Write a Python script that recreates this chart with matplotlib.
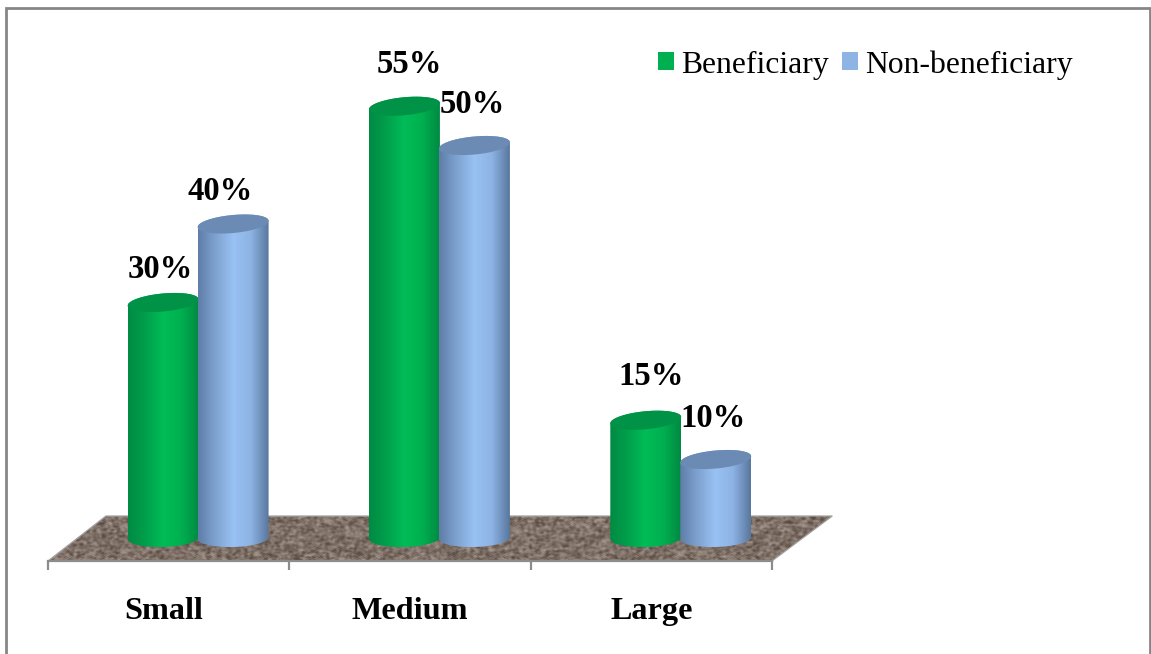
import matplotlib
matplotlib.use("Agg")
import matplotlib.pyplot as plt
import numpy as np
from matplotlib.patches import Patch, PathPatch, Polygon, Rectangle
from matplotlib.path import Path
from matplotlib.transforms import ScaledTranslation

categories = ["Small", "Medium", "Large"]
series_names = ["Beneficiary", "Non-beneficiary"]
beneficiary = [30, 55, 15]
non_beneficiary = [40, 50, 10]

W, H = 1151, 654
DPI = 100
PX = 72.0 / DPI

# plot area in pixels, y counted from the top
LEFT, RIGHT, TOP, BOTTOM = 48, 840, 20, 561
X_PER_UNIT = 241.33
Y_PER_UNIT = 7.85
BASE_PX = 538

# cylinder shape, in data units
RADIUS_X = 0.147
RADIUS_Y = 1.15
TILT = 0.4
BASE_TILT = 0.12
DEPTH_SHIFT = 0.122
BAR_OFFSET = 0.145

GREEN_STOPS = ["#008A43", "#00A04C", "#00BC57", "#00B050", "#008A43"]
BLUE_STOPS = ["#5F7EA9", "#7FA3D1", "#98C2F3", "#8DB3E4", "#5A789F"]
GREEN_TOP = "#009247"
BLUE_TOP = "#6C8BB4"
GREEN_KEY = "#00B050"
BLUE_KEY = "#8DB4E2"

# label nudges in pixels (right, up) from the top of each bar
green_nudge = [(-3, 33), (5, 42), (5, 44)]
blue_nudge = [(-12.5, 33), (-2, 41), (-3, 41)]
category_nudge = [-5, 0, 0]

plt.rcParams["font.family"] = ["Liberation Serif", "DejaVu Serif"]
LEGEND_SIZE = 22.8
VALUE_SIZE = 23.5
CATEGORY_SIZE = 23.2


def hex_rgb(c):
    return np.array(matplotlib.colors.to_rgb(c))


def gradient(stops):
    pos = np.linspace(0, 1, 70)
    rgb = np.array([hex_rgb(c) for c in stops])
    xs = np.linspace(0, 1, len(stops))
    return np.stack([np.interp(pos, xs, rgb[:, i]) for i in range(3)], axis=1)[None, :, :]


def floor_texture(w, h):
    # speckled brown ground, from a sine hash smeared sideways
    yy, xx = np.mgrid[0:h, 0:w]
    v = np.sin(xx * 12.9898 + yy * 78.233) * 43758.5453
    v = v - np.floor(v)
    out = v.copy()
    for shift in [(0, 1), (0, -1), (0, 2), (0, -2), (0, 3), (0, -3), (1, 0), (-1, 0), (1, 1), (-1, -1), (1, -1), (-1, 1)]:
        out = out + np.roll(v, shift, axis=(0, 1))
    out = out / 13.0
    out = (out - out.mean()) / out.std()
    out = np.clip(out, -2.2, 2.2)[:, :, None]
    base = hex_rgb("#7E7066")
    return np.clip(base + out * 0.065, 0, 1)


def ellipse_points(cx, cy, t, tilt):
    return np.column_stack([cx + RADIUS_X * np.cos(t),
                            cy + RADIUS_Y * np.sin(t) + tilt * np.cos(t)])


def draw_cylinder(ax, cx, value, stops, top_colour, z):
    low = ellipse_points(cx, 0, np.linspace(np.pi, 2 * np.pi, 40), BASE_TILT)
    high = ellipse_points(cx, value, np.linspace(0, np.pi, 40), TILT)
    body = np.vstack([low, high, low[:1]])
    clip = PathPatch(Path(body), transform=ax.transData, fc="none", ec="none")
    ax.add_patch(clip)
    im = ax.imshow(gradient(stops), extent=[cx - RADIUS_X, cx + RADIUS_X, -2, value + 2],
                   aspect="auto", interpolation="bilinear", zorder=z)
    im.set_clip_path(clip)
    cap = ellipse_points(cx, value, np.linspace(0, 2 * np.pi, 80), TILT)
    ax.add_patch(Polygon(cap, closed=True, fc=top_colour, ec="none", zorder=z + 0.1))


fig = plt.figure(figsize=(W / DPI, H / DPI), dpi=DPI, facecolor="white")

# outer chart frame, open at the bottom edge of the image
fig.add_artist(Rectangle((6 / W, -0.02), (1150 - 6) / W, 1.02 - 8 / H, transform=fig.transFigure,
                         fc="none", ec="#868686", lw=2.0))

ax = fig.add_axes([LEFT / W, 1 - BOTTOM / H, (RIGHT - LEFT) / W, (BOTTOM - TOP) / H])
ax.patch.set_alpha(0)

xlim = (-0.5, -0.5 + (RIGHT - LEFT) / X_PER_UNIT)
ylim = ((BASE_PX - BOTTOM) / Y_PER_UNIT, (BASE_PX - TOP) / Y_PER_UNIT)

# ground plane
back = (BASE_PX - 516) / Y_PER_UNIT
floor = [(-0.5, ylim[0]), (-0.26, back), (2.75, back), (2.5, ylim[0])]
floor_patch = Polygon(floor, closed=True, transform=ax.transData, fc="none", ec="#A3A3A3", lw=0.9, zorder=1.5)
ax.add_patch(floor_patch)
floor_im = ax.imshow(floor_texture(W, 46), extent=[-0.5, 2.75, ylim[0], back], aspect="auto",
                     interpolation="bilinear", zorder=1)
floor_im.set_clip_path(floor_patch)

z = 3
for i in range(len(categories)):
    gx = i + DEPTH_SHIFT
    draw_cylinder(ax, gx - BAR_OFFSET, beneficiary[i], GREEN_STOPS, GREEN_TOP, z)
    draw_cylinder(ax, gx + BAR_OFFSET, non_beneficiary[i], BLUE_STOPS, BLUE_TOP, z + 1)
    z += 2
    ax.annotate(f"{beneficiary[i]}%", (gx - BAR_OFFSET, beneficiary[i]), textcoords="offset points",
                xytext=(green_nudge[i][0] * PX, green_nudge[i][1] * PX), ha="center", va="center",
                fontsize=VALUE_SIZE, fontweight="bold", zorder=20, annotation_clip=False)
    ax.annotate(f"{non_beneficiary[i]}%", (gx + BAR_OFFSET, non_beneficiary[i]), textcoords="offset points",
                xytext=(blue_nudge[i][0] * PX, blue_nudge[i][1] * PX), ha="center", va="center",
                fontsize=VALUE_SIZE, fontweight="bold", zorder=20, annotation_clip=False)

ax.set_xlim(xlim)
ax.set_ylim(ylim)

# category axis: dividers as major ticks, names on minor ticks
for side in ["top", "left", "right"]:
    ax.spines[side].set_visible(False)
ax.spines["bottom"].set_color("#8C8C8C")
ax.spines["bottom"].set_linewidth(1.6)
ax.spines["bottom"].set_bounds(-0.5, 2.5)
ax.spines["bottom"].set_zorder(2)
ax.set_yticks([])
ax.set_xticks([-0.5, 0.5, 1.5, 2.5])
ax.set_xticklabels([])
ax.tick_params(axis="x", which="major", length=9 * PX, width=1.6, color="#8C8C8C")
ax.set_xticks(range(len(categories)), labels=categories, minor=True)
ax.tick_params(axis="x", which="minor", length=0, pad=36 * PX, labelsize=CATEGORY_SIZE)
for lab, nudge in zip(ax.get_xticklabels(minor=True), category_nudge):
    lab.set_fontweight("bold")
    lab.set_transform(lab.get_transform() + ScaledTranslation(nudge / DPI, 0, fig.dpi_scale_trans))

handles = [Patch(fc=GREEN_KEY, ec="none", label=series_names[0]),
           Patch(fc=BLUE_KEY, ec="none", label=series_names[1])]
fig.legend(handles=handles, loc="upper left", bbox_to_anchor=(657.5 / W, 1 - 50 / H), ncol=2,
           frameon=False, fontsize=LEGEND_SIZE, handlelength=0.52, handleheight=0.507,
           handletextpad=0.22, columnspacing=0.42, borderpad=0, borderaxespad=0)

fig.savefig("out.png", dpi=DPI, facecolor="white")
